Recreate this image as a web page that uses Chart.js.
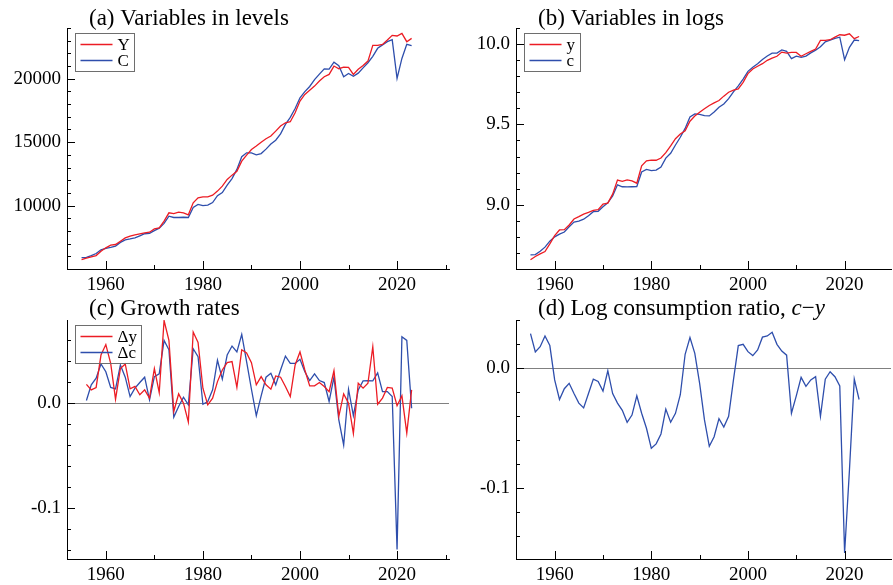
<!DOCTYPE html>
<html>
<head>
<meta charset="utf-8">
<script src="https://cdn.jsdelivr.net/npm/chart.js@4.4.1/dist/chart.umd.min.js"></script>
<style>
  html, body { margin: 0; padding: 0; background: #fff; }
  #wrap { position: relative; width: 893px; height: 585px; overflow: hidden; }
  canvas { position: absolute; }
</style>
</head>
<body>
<div id="wrap">
  <canvas id="pa" width="452" height="292" style="left:0;top:0"></canvas>
  <canvas id="pb" width="441" height="292" style="left:452px;top:0"></canvas>
  <canvas id="pc" width="452" height="293" style="left:0;top:292px"></canvas>
  <canvas id="pd" width="441" height="293" style="left:452px;top:292px"></canvas>
</div>
<script>
// years for levels, logs and the ratio
const years = [1955,1956,1957,1958,1959,1960,1961,1962,1963,1964,
  1965,1966,1967,1968,1969,1970,1971,1972,1973,1974,
  1975,1976,1977,1978,1979,1980,1981,1982,1983,1984,
  1985,1986,1987,1988,1989,1990,1991,1992,1993,1994,
  1995,1996,1997,1998,1999,2000,2001,2002,2003,2004,
  2005,2006,2007,2008,2009,2010,2011,2012,2013,2014,
  2015,2016,2017,2018,2019,2020,2021,2022,2023];
// growth rates start one year later
const growthYears = years.slice(1);

const levelY = [5743,5850,5955,6060,6400,6670,6880,6930,7190,7450,
  7590,7690,7770,7850,7900,8165,8240,8770,9430,9370,
  9480,9430,9270,10220,10610,10690,10690,10820,11140,11530,
  12060,12400,12700,13500,13980,14420,14690,15000,15270,15480,
  15870,16270,16530,16610,17320,18240,18760,19100,19420,19820,
  20160,20340,21000,20790,20920,20890,20340,20740,21050,21390,
  22630,22630,22710,23050,23420,23370,23580,22920,23180];
const levelC = [5900,5920,6050,6220,6510,6630,6710,6810,7100,7300,
  7370,7450,7610,7780,7810,8020,8220,8600,9160,9060,
  9060,9080,9060,9850,10090,10000,10040,10240,10780,11030,
  11620,12130,12850,13850,14160,14150,14000,14100,14450,14850,
  15150,15650,16400,16950,17650,18500,18980,19390,19930,20360,
  20780,20760,21300,21030,20160,20420,20200,20440,20860,21260,
  21770,22400,22670,22920,23080,20030,21600,22710,22610];

const logY = [8.657,8.678,8.694,8.709,8.756,8.808,8.843,8.845,8.874,8.911,
  8.926,8.942,8.952,8.965,8.969,9.004,9.010,9.066,9.153,9.145,
  9.155,9.149,9.134,9.242,9.273,9.277,9.277,9.291,9.324,9.366,
  9.411,9.440,9.460,9.520,9.552,9.576,9.597,9.618,9.634,9.649,
  9.676,9.700,9.713,9.721,9.762,9.816,9.845,9.862,9.878,9.899,
  9.913,9.924,9.950,9.944,9.948,9.948,9.924,9.940,9.955,9.969,
  10.023,10.023,10.027,10.043,10.058,10.055,10.064,10.034,10.047];
const logC = [8.688,8.690,8.710,8.736,8.773,8.800,8.817,8.830,8.863,8.892,
  8.898,8.910,8.932,8.957,8.959,8.988,9.012,9.055,9.124,9.112,
  9.111,9.112,9.113,9.204,9.220,9.212,9.216,9.235,9.290,9.320,
  9.372,9.420,9.475,9.546,9.565,9.563,9.554,9.553,9.577,9.607,
  9.627,9.660,9.703,9.740,9.782,9.830,9.856,9.877,9.904,9.926,
  9.943,9.944,9.964,9.955,9.909,9.925,9.917,9.925,9.945,9.962,
  9.983,10.014,10.024,10.036,10.043,9.903,9.980,10.025,10.021];

const growthY = [0.018,0.0127,0.015,0.046,0.056,0.038,0.0038,0.033,0.0375,0.0137,
  0.016,0.008,0.0127,0.0048,0.033,0.010,0.079,0.060,-0.008,0.0089,
  0.0,-0.018,0.068,0.058,0.0143,-0.0016,0.0048,0.0206,0.0317,0.0387,
  0.0397,0.015,0.051,0.048,0.0387,0.0175,0.0254,0.0175,0.0133,0.026,
  0.0248,0.0159,0.0063,0.0365,0.049,0.0317,0.0165,0.0165,0.0197,0.0159,
  0.011,0.031,-0.0127,0.0089,0.0,-0.029,0.019,0.0143,0.019,0.054,
  -0.001,0.0048,0.015,0.0143,-0.0025,0.007,-0.0286,0.0127];
const growthC = [0.0025,0.0175,0.0238,0.0375,0.030,0.015,0.0137,0.0365,0.0248,0.0063,
  0.0143,0.0197,0.0248,0.0032,0.0254,0.028,0.060,0.051,-0.0133,-0.0032,
  0.0057,-0.0016,0.052,0.0444,-0.001,0.0016,0.0127,0.041,0.0229,0.046,
  0.0546,0.049,0.0657,0.0397,0.0133,-0.012,0.007,0.0248,0.0286,0.0175,
  0.0317,0.045,0.038,0.038,0.042,0.030,0.0216,0.028,0.0216,0.0197,
  0.0016,0.0248,-0.0159,-0.040,0.0133,-0.012,0.0127,0.0213,0.0216,0.0213,
  0.029,0.011,0.011,0.0063,-0.140,0.0635,0.060,-0.0048];

const ratioCY = [0.029,0.0136,0.018,0.027,0.019,-0.0097,-0.026,-0.017,-0.0125,-0.021,
  -0.029,-0.033,-0.021,-0.009,-0.011,-0.019,-0.002,-0.021,-0.029,-0.035,
  -0.045,-0.039,-0.023,-0.0375,-0.050,-0.0667,-0.063,-0.0547,-0.034,-0.045,
  -0.0375,-0.022,0.0117,0.0256,0.0125,-0.0125,-0.043,-0.065,-0.057,-0.042,
  -0.049,-0.040,-0.0097,0.019,0.020,0.0139,0.0106,0.0153,0.026,0.027,
  0.030,0.020,0.0144,0.011,-0.0375,-0.023,-0.0075,-0.015,-0.0097,-0.007,
  -0.040,-0.009,-0.0028,-0.007,-0.0147,-0.154,-0.085,-0.009,-0.026];

const xMajor = [1960, 1980, 2000, 2020];

const RED = 'rgb(236,28,36)';
const BLUE = 'rgb(46,78,172)';
const SERIF = '"Liberation Serif", "Times New Roman", serif';

Chart.defaults.font.family = SERIF;
Chart.defaults.font.size = 19;
Chart.defaults.color = '#000';

function pts(xs, ys) {
  return xs.map((x, i) => ({ x: x, y: ys[i] }));
}

// inner tick marks, zero line, legend box and panel title
const panelDeco = {
  id: 'panelDeco',
  beforeDatasetsDraw(chart, args, o) {
    if (!o.zeroLine) return;
    const { ctx, chartArea } = chart;
    const py = Math.round(chart.scales.y.getPixelForValue(0)) + 0.5;
    ctx.save();
    ctx.strokeStyle = 'rgb(128,128,128)';
    ctx.lineWidth = 1;
    ctx.beginPath();
    ctx.moveTo(chartArea.left, py);
    ctx.lineTo(chartArea.right, py);
    ctx.stroke();
    ctx.restore();
  },
  afterDraw(chart, args, o) {
    const { ctx, chartArea } = chart;
    const xs = chart.scales.x, ys = chart.scales.y;
    ctx.save();
    ctx.strokeStyle = '#000';
    ctx.lineWidth = 1;
    ctx.beginPath();
    // y ticks
    const k0 = Math.ceil(ys.min / o.yStep - 1e-6), k1 = Math.floor(ys.max / o.yStep + 1e-6);
    for (let k = k0; k <= k1; k++) {
      const v = k * o.yStep;
      const major = o.yMajor.some(m => Math.abs(m - v) < o.yStep / 10);
      const py = Math.round(ys.getPixelForValue(v)) + 0.5;
      ctx.moveTo(chartArea.left, py);
      ctx.lineTo(chartArea.left + (major ? 8 : 4), py);
    }
    // x ticks
    for (let yr = 1950; yr <= 2040; yr += 10) {
      if (yr < xs.min || yr > xs.max) continue;
      const major = xMajor.includes(yr);
      const px = Math.round(xs.getPixelForValue(yr)) + 0.5;
      ctx.moveTo(px, chartArea.bottom);
      ctx.lineTo(px, chartArea.bottom - (major ? 8 : 4));
    }
    ctx.stroke();

    // legend
    if (o.legend) {
      ctx.font = '17px ' + SERIF;
      const textW = Math.max(...o.legend.map(l => ctx.measureText(l.label).width));
      const bx = chartArea.left + 8.5, by = chartArea.top + 5.5;
      const bw = Math.round(5 + 32 + 5 + textW + 5), bh = 38;
      ctx.strokeStyle = 'rgb(110,110,110)';
      ctx.strokeRect(bx, by, bw, bh);
      o.legend.forEach((l, i) => {
        const ly = Math.round(by + 10 + i * 16.5) + 0.5;
        ctx.strokeStyle = l.color;
        ctx.lineWidth = 1.3;
        ctx.beginPath();
        ctx.moveTo(bx + 5, ly);
        ctx.lineTo(bx + 37, ly);
        ctx.stroke();
        ctx.fillStyle = '#000';
        ctx.textBaseline = 'middle';
        ctx.textAlign = 'left';
        ctx.fillText(l.label, bx + 42, ly + 1);
      });
    }

    // title, drawn piece by piece so italic parts can be mixed in
    ctx.textBaseline = 'alphabetic';
    ctx.textAlign = 'left';
    ctx.fillStyle = '#000';
    let tx = chartArea.left + 22;
    o.title.forEach(part => {
      ctx.font = (part.italic ? 'italic ' : '') + '23px ' + SERIF;
      ctx.fillText(part.text, tx, o.titleY);
      tx += ctx.measureText(part.text).width;
    });
    ctx.restore();
  }
};

function makePanel(id, p) {
  const datasets = p.series.map(s => ({
    data: pts(s.x, s.y),
    borderColor: s.color,
    borderWidth: 1.3,
    pointRadius: 0,
    tension: 0,
    fill: false
  }));
  return new Chart(document.getElementById(id).getContext('2d'), {
    type: 'line',
    data: { datasets: datasets },
    options: {
      responsive: false,
      animation: false,
      layout: { padding: { top: 28, right: p.padRight, left: 0, bottom: 0 } },
      scales: {
        x: {
          type: 'linear',
          min: p.xMin,
          max: p.xMax,
          grid: { display: true, drawOnChartArea: false, drawTicks: false, color: 'rgba(0,0,0,0)' },
          border: { display: true, color: '#000', width: 1 },
          afterBuildTicks: s => { s.ticks = xMajor.map(v => ({ value: v })); },
          afterFit: s => { s.height = p.xHeight; },
          ticks: { padding: 5, maxRotation: 0, callback: v => String(v) }
        },
        y: {
          type: 'linear',
          min: p.yMin,
          max: p.yMax,
          grid: { display: true, drawOnChartArea: false, drawTicks: false, color: 'rgba(0,0,0,0)' },
          border: { display: true, color: '#000', width: 1 },
          afterBuildTicks: s => { s.ticks = p.yMajor.map(v => ({ value: v })); },
          afterFit: s => { s.width = p.yWidth; },
          ticks: { padding: 6, callback: v => v.toFixed(p.dec) }
        }
      },
      plugins: {
        legend: { display: false },
        tooltip: { enabled: false },
        panelDeco: {
          yStep: p.yStep,
          yMajor: p.yMajor,
          legend: p.legend,
          title: p.title,
          titleY: p.titleY,
          zeroLine: p.zeroLine
        }
      }
    },
    plugins: [panelDeco]
  });
}

makePanel('pa', {
  series: [{ x: years, y: levelY, color: RED }, { x: years, y: levelC, color: BLUE }],
  xMin: 1952, xMax: 2030.7, yMin: 5000, yMax: 24000,
  yMajor: [10000, 15000, 20000], yStep: 1000, dec: 0,
  yWidth: 67, xHeight: 23, padRight: 3, titleY: 25,
  legend: [{ label: 'Y', color: RED }, { label: 'C', color: BLUE }],
  title: [{ text: '(a) Variables in levels' }]
});

makePanel('pb', {
  series: [{ x: years, y: logY, color: RED }, { x: years, y: logC, color: BLUE }],
  xMin: 1952, xMax: 2029.6, yMin: 8.6, yMax: 10.1,
  yMajor: [9.0, 9.5, 10.0], yStep: 0.1, dec: 1,
  yWidth: 64, xHeight: 23, padRight: 2, titleY: 25,
  legend: [{ label: 'y', color: RED }, { label: 'c', color: BLUE }],
  title: [{ text: '(b) Variables in logs' }]
});

makePanel('pc', {
  series: [{ x: growthYears, y: growthY, color: RED }, { x: growthYears, y: growthC, color: BLUE }],
  xMin: 1952, xMax: 2030.7, yMin: -0.149, yMax: 0.0795,
  yMajor: [-0.1, 0.0], yStep: 0.02, dec: 1,
  yWidth: 67, xHeight: 26, padRight: 3, titleY: 23, zeroLine: true,
  legend: [{ label: '\u0394y', color: RED }, { label: '\u0394c', color: BLUE }],
  title: [{ text: '(c) Growth rates' }]
});

makePanel('pd', {
  series: [{ x: years, y: ratioCY, color: BLUE }],
  xMin: 1952, xMax: 2029.6, yMin: -0.159, yMax: 0.0403,
  yMajor: [-0.1, 0.0], yStep: 0.02, dec: 1,
  yWidth: 64, xHeight: 26, padRight: 2, titleY: 23, zeroLine: true,
  title: [{ text: '(d) Log consumption ratio, ' }, { text: 'c', italic: true }, { text: '\u2212' }, { text: 'y', italic: true }]
});
</script>
</body>
</html>
